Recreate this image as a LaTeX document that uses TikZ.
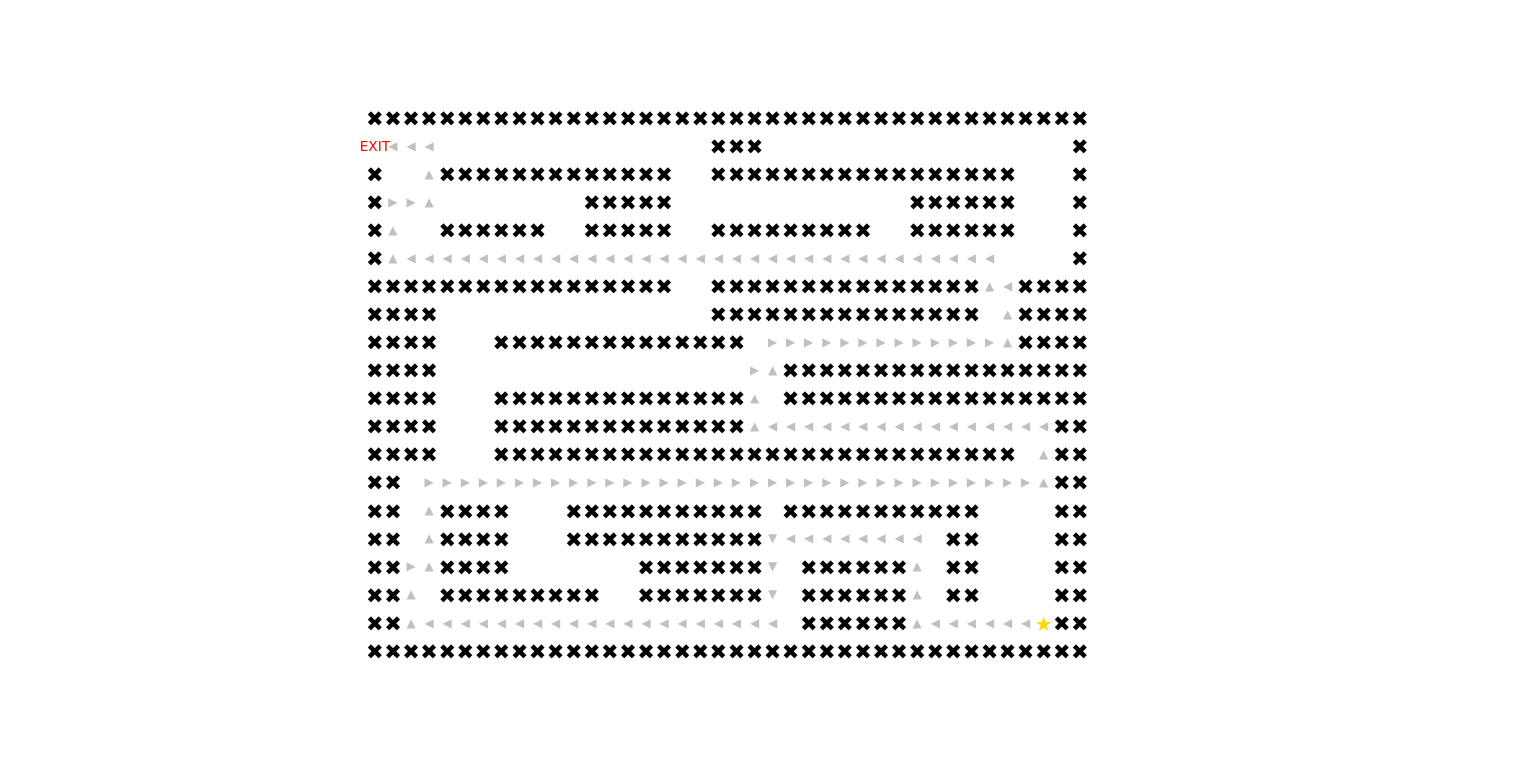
\documentclass[tikz,border=0pt]{standalone}
\usepackage{fontspec}
\setmainfont{DejaVu Sans}
\definecolor{arrowgray}{RGB}{192,192,192}
\definecolor{stargold}{RGB}{255,215,0}
\definecolor{exitred}{RGB}{255,0,0}
\begin{document}
\begin{tikzpicture}[x=1pt,y=-1pt,
  wall/.style={inner sep=0pt,text=black,font=\fontsize{21}{21}\selectfont},
  mover/.style={inner sep=0pt,text=arrowgray,font=\fontsize{12}{12}\selectfont},
  goal/.style={inner sep=0pt,text=stargold,font=\fontsize{20}{20}\selectfont},
  exitlabel/.style={inner sep=0pt,text=exitred,font=\fontsize{13.7}{14}\selectfont}]
\useasboundingbox (0,0) rectangle (1536,761);
\def\cx#1{375+18.077*#1}
\def\ry#1{119+28.05*#1}
% walls
\foreach \r/\ranges in {0/{0/39},1/{19/21,39/39},2/{0/0,4/16,19/35,39/39},3/{0/0,12/16,30/35,39/39},
  4/{0/0,4/9,12/16,19/27,30/35,39/39},5/{0/0,39/39},6/{0/16,19/33,36/39},7/{0/3,19/33,36/39},
  8/{0/3,7/20,36/39},9/{0/3,23/39},10/{0/3,7/20,23/39},11/{0/3,7/20,38/39},12/{0/3,7/35,38/39},
  13/{0/1,38/39},14/{0/1,4/7,11/21,23/33,38/39},15/{0/1,4/7,11/21,32/33,38/39},
  16/{0/1,4/7,15/21,24/29,32/33,38/39},17/{0/1,4/12,15/21,24/29,32/33,38/39},
  18/{0/1,24/29,38/39},19/{0/39}}{
  \foreach \a/\b in \ranges {
    \foreach \c in {\a,...,\b} {
      \node[wall] (x-\r-\c) at ({\cx{\c}},{\ry{\r}}) {✖};
    }
  }
}
% left moves
\foreach \r/\ranges in {1/{1/3},5/{2/34},6/{35/35},11/{22/37},15/{23/30},18/{3/22,31/36}}{
  \foreach \a/\b in \ranges {
    \foreach \c in {\a,...,\b} {
      \node[mover] (a-\r-\c) at ({\cx{\c}},{\ry{\r}}) {◀};
    }
  }
}
% right moves
\foreach \r/\ranges in {3/{1/2},8/{22/34},9/{21/21},13/{3/36},16/{2/2}}{
  \foreach \a/\b in \ranges {
    \foreach \c in {\a,...,\b} {
      \node[mover] (a-\r-\c) at ({\cx{\c}},{\ry{\r}}) {▶};
    }
  }
}
% up moves
\foreach \r/\c in {2/3,3/3,4/1,5/1,6/34,7/35,8/35,9/22,10/21,11/21,12/37,13/37,14/3,15/3,16/3,16/30,17/2,17/30,18/2,18/30}{
  \node[mover] (a-\r-\c) at ({\cx{\c}},{\ry{\r}}) {▲};
}
% down moves
\foreach \r/\c in {15/22,16/22,17/22}{
  \node[mover] (a-\r-\c) at ({\cx{\c}},{\ry{\r}}) {▼};
}
\node[goal] (start) at ({\cx{37}},{\ry{18}}) {★};
\node[exitlabel] (exit) at ({\cx{0}},{\ry{1}-1}) {EXIT};
\end{tikzpicture}
\end{document}
